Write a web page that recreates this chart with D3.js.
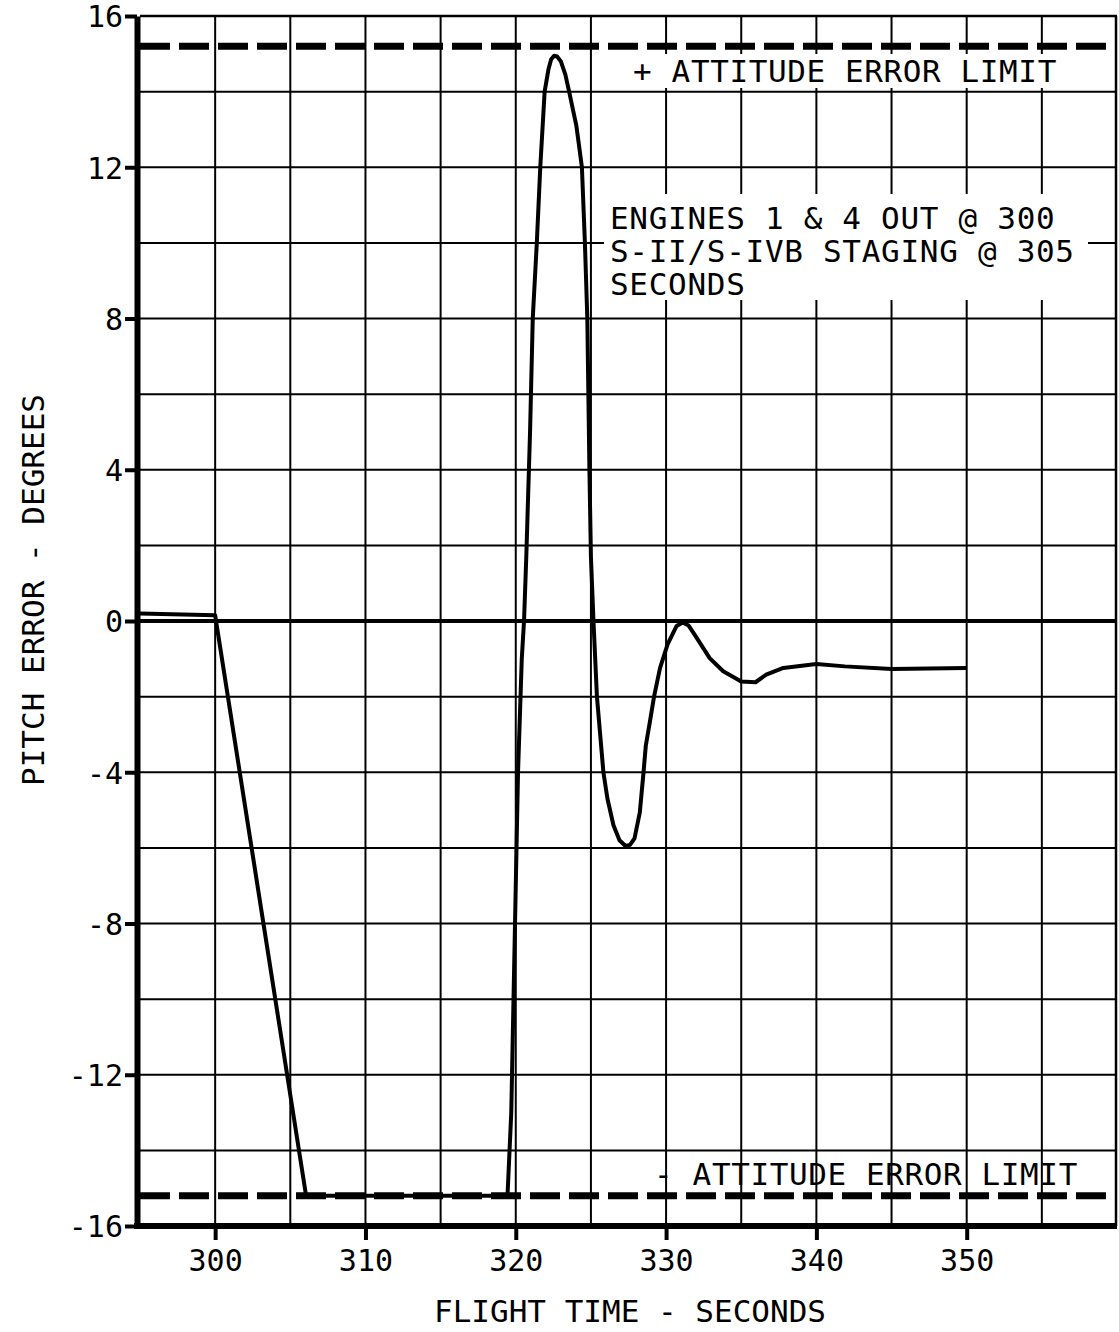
<!DOCTYPE html>
<html>
<head>
<meta charset="utf-8">
<script src="https://cdn.jsdelivr.net/npm/d3@7"></script>
<style>
  body { margin: 0; background: #fff; }
  text { font-family: "DejaVu Sans Mono", monospace; fill: #000; }
</style>
</head>
<body>
<svg id="chart" width="1119" height="1332"></svg>
<script>
// Pitch error trace (seconds, degrees)
const timeSec = [295, 300, 306.05, 319.45, 319.7, 319.95, 320.15, 320.4, 320.55, 320.7, 320.95, 321.13,
  321.4, 321.63, 321.92, 322.18, 322.35, 322.55, 322.75, 323.0, 323.3, 323.55, 324.03, 324.2, 324.4, 324.6,
  324.76, 324.9, 325.0, 325.17, 325.4, 325.83, 326.1, 326.5, 326.9, 327.3, 327.6, 327.9, 328.25, 328.5,
  328.65, 328.95, 329.2, 329.6, 330.1, 330.7, 331.1, 331.5, 331.9, 332.9, 333.8, 335.0, 335.95, 336.66,
  337.8, 340.0, 341.9, 345, 350];
const pitchErr = [0.2, 0.15, -15.2, -15.2, -13, -8, -4, -1, 0, 1.7, 5, 8,
  10, 12, 14, 14.6, 14.85, 14.95, 14.93, 14.8, 14.45, 14, 13.1, 12.6, 12, 10,
  8, 4, 1.7, 0, -2, -4, -4.7, -5.4, -5.8, -5.95, -5.92, -5.75, -5.07, -4,
  -3.3, -2.6, -2, -1.24, -0.62, -0.13, -0.04, -0.12, -0.36, -0.98, -1.33, -1.6, -1.62, -1.42,
  -1.24, -1.14, -1.2, -1.27, -1.24];

const xTicks = [300, 310, 320, 330, 340, 350];
const yTicks = [16, 12, 8, 4, 0, -4, -8, -12, -16];
const xGrid = [300, 305, 310, 315, 320, 325, 330, 335, 340, 345, 350, 355];
const yGrid = [-14, -12, -10, -8, -6, -4, -2, 2, 4, 6, 8, 10, 12, 14];
const errorLimits = [15.2, -15.2];
const noteLines = ["ENGINES 1 & 4 OUT @ 300", "S-II/S-IVB STAGING @ 305", "SECONDS"];

const svg = d3.select('#chart');
const x = d3.scaleLinear().domain([295, 360]).range([140, 1117]);
const y = d3.scaleLinear().domain([-16, 16]).range([1226, 16]);

// grid
svg.append('g').selectAll('line').data(xGrid).join('line')
  .attr('x1', d => x(d)).attr('x2', d => x(d))
  .attr('y1', y(16)).attr('y2', y(-16))
  .attr('stroke', '#000').attr('stroke-width', 2);
svg.append('g').selectAll('line').data(yGrid).join('line')
  .attr('x1', x(295)).attr('x2', x(360))
  .attr('y1', d => y(d)).attr('y2', d => y(d))
  .attr('stroke', '#000').attr('stroke-width', 2);

// zero line
svg.append('line')
  .attr('x1', x(295)).attr('x2', x(360))
  .attr('y1', y(0)).attr('y2', y(0))
  .attr('stroke', '#000').attr('stroke-width', 4);

// frame: thin top/right, heavy left/bottom
svg.append('line').attr('x1', x(295)).attr('x2', x(360)).attr('y1', y(16)).attr('y2', y(16))
  .attr('stroke', '#000').attr('stroke-width', 2.5);
svg.append('line').attr('x1', x(360) - 1).attr('x2', x(360) - 1).attr('y1', y(16)).attr('y2', y(-16))
  .attr('stroke', '#000').attr('stroke-width', 2.5);

// white boxes behind the upper notes
svg.append('rect').attr('x', 604).attr('y', 194).attr('width', 484).attr('height', 106).attr('fill', '#fff');
svg.append('rect').attr('x', 622).attr('y', 54).attr('width', 445).attr('height', 34).attr('fill', '#fff');

// attitude error limits
svg.append('g').selectAll('line').data(errorLimits).join('line')
  .attr('x1', x(295)).attr('x2', x(360))
  .attr('y1', d => y(d)).attr('y2', d => y(d))
  .attr('stroke', '#000').attr('stroke-width', 7)
  .attr('stroke-dasharray', '30,9');

// pitch error curve
const line = d3.line()
  .x((d, i) => x(timeSec[i]))
  .y(d => y(d));
svg.append('path')
  .attr('d', line(pitchErr))
  .attr('fill', 'none').attr('stroke', '#000')
  .attr('stroke-width', 4).attr('stroke-linejoin', 'round');

// axes
const yAxis = svg.append('g').attr('transform', `translate(${x(295) - 3},0)`)
  .call(d3.axisLeft(y).tickValues(yTicks).tickSize(12).tickSizeOuter(0)
    .tickFormat(d => d < 0 ? '-' + Math.abs(d) : String(d)));
yAxis.select('.domain').attr('stroke', '#000').attr('stroke-width', 6);
yAxis.selectAll('.tick line').attr('stroke', '#000').attr('stroke-width', 4);
yAxis.selectAll('.tick text').attr('x', -14).style('font-size', '30px').attr('dy', '0.36em');

const xAxis = svg.append('g').attr('transform', `translate(0,${y(-16)})`)
  .call(d3.axisBottom(x).tickValues(xTicks).tickSize(14).tickSizeOuter(0).tickFormat(d3.format('d')));
xAxis.select('.domain').attr('stroke', '#000').attr('stroke-width', 6)
  .attr('d', `M${x(295) - 6},0H${x(360)}`);
xAxis.selectAll('.tick line').attr('stroke', '#000').attr('stroke-width', 4);
xAxis.selectAll('.tick text').attr('y', 24).style('font-size', '30px');

// labels
svg.append('text').attr('x', 845).attr('y', 82).attr('text-anchor', 'middle')
  .style('font-size', '31px').style('letter-spacing', '0.6px').text('+ ATTITUDE  ERROR LIMIT');
svg.append('text').attr('x', 866).attr('y', 1185).attr('text-anchor', 'middle')
  .style('font-size', '31px').style('letter-spacing', '0.6px').text('- ATTITUDE ERROR LIMIT');

svg.append('g').selectAll('text').data(noteLines).join('text')
  .attr('x', 610).attr('y', (d, i) => 229 + i * 33)
  .style('font-size', '31px').style('letter-spacing', '0.7px').text(d => d);

svg.append('text').attr('x', 630).attr('y', 1322).attr('text-anchor', 'middle')
  .style('font-size', '31px').text('FLIGHT TIME - SECONDS');
svg.append('text').attr('transform', 'translate(44,590) rotate(-90)').attr('text-anchor', 'middle')
  .style('font-size', '31px').text('PITCH ERROR - DEGREES');
</script>
</body>
</html>
